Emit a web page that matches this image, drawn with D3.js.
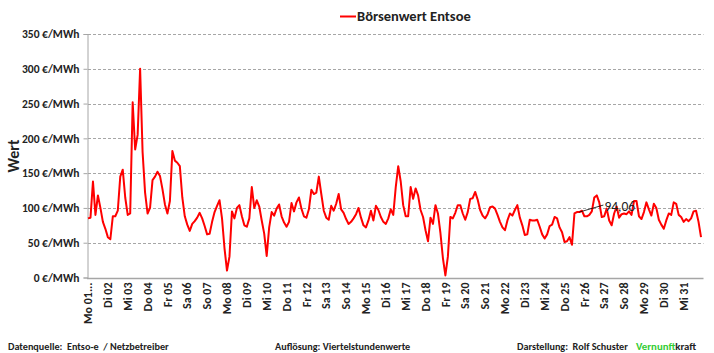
<!DOCTYPE html>
<html lang="de">
<head>
<meta charset="utf-8">
<title>Börsenwert Entsoe</title>
<script src="https://d3js.org/d3.v7.min.js"></script>
<style>
  body { margin: 0; background: #fff; font-family: Carlito, Lato, "Liberation Sans", sans-serif; }
  svg text { fill: #222; }
</style>
</head>
<body>
<div id="chart"></div>
<script>
// day labels on the x axis (one per day)
const dayLabels = ["Mo 01...", "Di 02", "Mi 03", "Do 04", "Fr 05", "Sa 06", "So 07", "Mo 08", "Di 09", "Mi 10",
  "Do 11", "Fr 12", "Sa 13", "So 14", "Mo 15", "Di 16", "Mi 17", "Do 18", "Fr 19", "Sa 20", "So 21",
  "Mo 22", "Di 23", "Mi 24", "Do 25", "Fr 26", "Sa 27", "So 28", "Mo 29", "Di 30", "Mi 31"]

// y axis ticks
const yTicks = [0, 50, 100, 150, 200, 250, 300, 350]

// price in €/MWh, one value every 3 hours (8 per day)
const prices = [
  85, 86, 138, 90, 118, 100, 80, 70,
  58, 55, 88, 88, 96, 145, 155, 115,
  90, 92, 252, 184, 205, 300, 180, 122,
  92, 100, 140, 145, 152, 146, 127, 105,
  92, 110, 182, 168, 165, 160, 115, 88,
  76, 67, 77, 81, 86, 93, 85, 74,
  62, 63, 80, 94, 103, 111, 85, 42,
  10, 30, 95, 85, 100, 104, 88, 75,
  73, 85, 130, 100, 111, 102, 82, 63,
  31, 72, 94, 89, 99, 105, 88, 79,
  73, 80, 107, 95, 108, 115, 99, 88,
  86, 98, 126, 120, 122, 145, 120, 96,
  86, 83, 103, 96, 106, 120, 98, 93,
  84, 77, 80, 85, 91, 100, 86, 75,
  72, 82, 96, 82, 103, 97, 87, 80,
  77, 85, 98, 90, 130, 160, 138, 104,
  88, 88, 130, 113, 128, 118, 97, 87,
  68, 52, 86, 77, 104, 92, 64, 28,
  3, 30, 87, 85, 93, 104, 104, 92,
  83, 94, 113, 114, 123, 112, 97, 89,
  85, 91, 101, 102, 99, 90, 80, 72,
  68, 82, 92, 89, 97, 104, 86, 75,
  61, 62, 83, 82, 82, 83, 73, 62,
  56, 62, 74, 76, 87, 85, 72, 65,
  51, 52, 58, 47, 92, 94, 94.06, 96,
  88, 88, 90, 95, 115, 118, 108, 87,
  88, 99, 82, 75, 92, 102, 86, 91,
  92, 91, 95, 90, 110, 110, 88, 84,
  94, 108, 98, 89, 106, 100, 83, 76,
  70, 82, 92, 90, 108, 106, 90, 87,
  80, 84, 81, 85, 95, 96, 80, 58
]
const stepHours = 3

// labelled point
const labelIndex = 198
const labelText = "94,06"

const w = 714
const h = 353
const plotLeft = 88, plotRight = 703.5, plotTop = 34, plotBottom = 277.5

const svg = d3.select("#chart").append("svg")
  .attr("width", w)
  .attr("height", h)

const xScale = d3.scaleLinear().domain([0, dayLabels.length * 24]).range([plotLeft, plotRight])
const yScale = d3.scaleLinear().domain([0, 350]).range([plotBottom, plotTop])

// gridlines
svg.selectAll(".grid")
  .data(yTicks.filter(d => d > 0))
  .enter()
  .append("line")
  .attr("x1", plotLeft)
  .attr("x2", plotRight)
  .attr("y1", d => Math.round(yScale(d)) + 0.5)
  .attr("y2", d => Math.round(yScale(d)) + 0.5)
  .attr("stroke", "#a6a6a6")
  .attr("stroke-dasharray", "3,2")

// y axis
const yAxis = d3.axisLeft(yScale)
  .tickValues(yTicks)
  .tickSize(4)
  .tickPadding(4)
  .tickFormat(d => d + " €/MWh")
const gy = svg.append("g")
  .attr("transform", "translate(" + (plotLeft - 0.5) + ",0)")
  .call(yAxis)
gy.attr("font-family", null)
gy.select(".domain").attr("stroke", "#a6a6a6")
gy.selectAll(".tick line").attr("stroke", "#a6a6a6")
gy.selectAll("text")
  .attr("font-size", "11.5px")
  .attr("font-weight", "bold")
  .attr("fill", "#333")

// x axis line
svg.append("line")
  .attr("x1", plotLeft - 1)
  .attr("x2", plotRight)
  .attr("y1", Math.round(plotBottom) + 0.5)
  .attr("y2", Math.round(plotBottom) + 0.5)
  .attr("stroke", "#a6a6a6")
  .attr("stroke-width", 1.5)

// x labels
svg.selectAll(".xlabel")
  .data(dayLabels)
  .enter()
  .append("text")
  .attr("class", "xlabel")
  .attr("transform", (d, i) => "translate(" + xScale(i * 24) + "," + (plotBottom + 5) + ") rotate(-90)")
  .attr("dy", "0.35em")
  .attr("text-anchor", "end")
  .attr("font-size", "12px")
  .attr("font-weight", "bold")
  .attr("fill", "#333")
  .text(d => d)

// price line
const line = d3.line()
  .x((d, i) => xScale(i * stepHours))
  .y(d => yScale(d))

svg.append("path")
  .datum(prices)
  .attr("d", line)
  .attr("fill", "none")
  .attr("stroke", "#ff0000")
  .attr("stroke-width", 2)
  .attr("stroke-linejoin", "round")

// data label with leader line
const lx = xScale(labelIndex * stepHours)
const ly = yScale(prices[labelIndex])
svg.append("line")
  .attr("x1", lx)
  .attr("y1", ly)
  .attr("x2", lx + 24)
  .attr("y2", ly - 7)
  .attr("stroke", "#000")
  .attr("stroke-width", 0.8)
svg.append("text")
  .attr("x", lx + 25)
  .attr("y", ly - 1)
  .attr("font-size", "13.5px")
  .attr("fill", "#000")
  .text(labelText)

// y title
svg.append("text")
  .attr("transform", "translate(19,156) rotate(-90)")
  .attr("text-anchor", "middle")
  .attr("font-size", "16px")
  .attr("font-weight", "bold")
  .attr("fill", "#000")
  .text("Wert")

// legend
svg.append("line")
  .attr("x1", 340)
  .attr("x2", 356)
  .attr("y1", 16.5)
  .attr("y2", 16.5)
  .attr("stroke", "#ff0000")
  .attr("stroke-width", 2)
svg.append("text")
  .attr("x", 357)
  .attr("y", 21)
  .attr("font-size", "14.5px")
  .attr("font-weight", "bold")
  .attr("fill", "#000")
  .text("Börsenwert Entsoe")

// footer
const footer = svg.append("g")
  .attr("font-size", "10.2px")
  .attr("font-weight", "bold")
footer.append("text").attr("x", 8).attr("y", 350).attr("xml:space", "preserve")
  .text("Datenquelle:  Entso-e  / Netzbetreiber")
footer.append("text").attr("x", 275).attr("y", 350)
  .text("Auflösung: Viertelstundenwerte")
footer.append("text").attr("x", 517).attr("y", 350).attr("xml:space", "preserve")
  .text("Darstellung:  Rolf Schuster")
const brand = footer.append("text").attr("x", 636).attr("y", 350)
  .attr("font-size", "10.8px")
brand.append("tspan").attr("fill", "#33cc33").text("Vernunft")
brand.append("tspan").attr("fill", "#222").text("kraft")
</script>
</body>
</html>
